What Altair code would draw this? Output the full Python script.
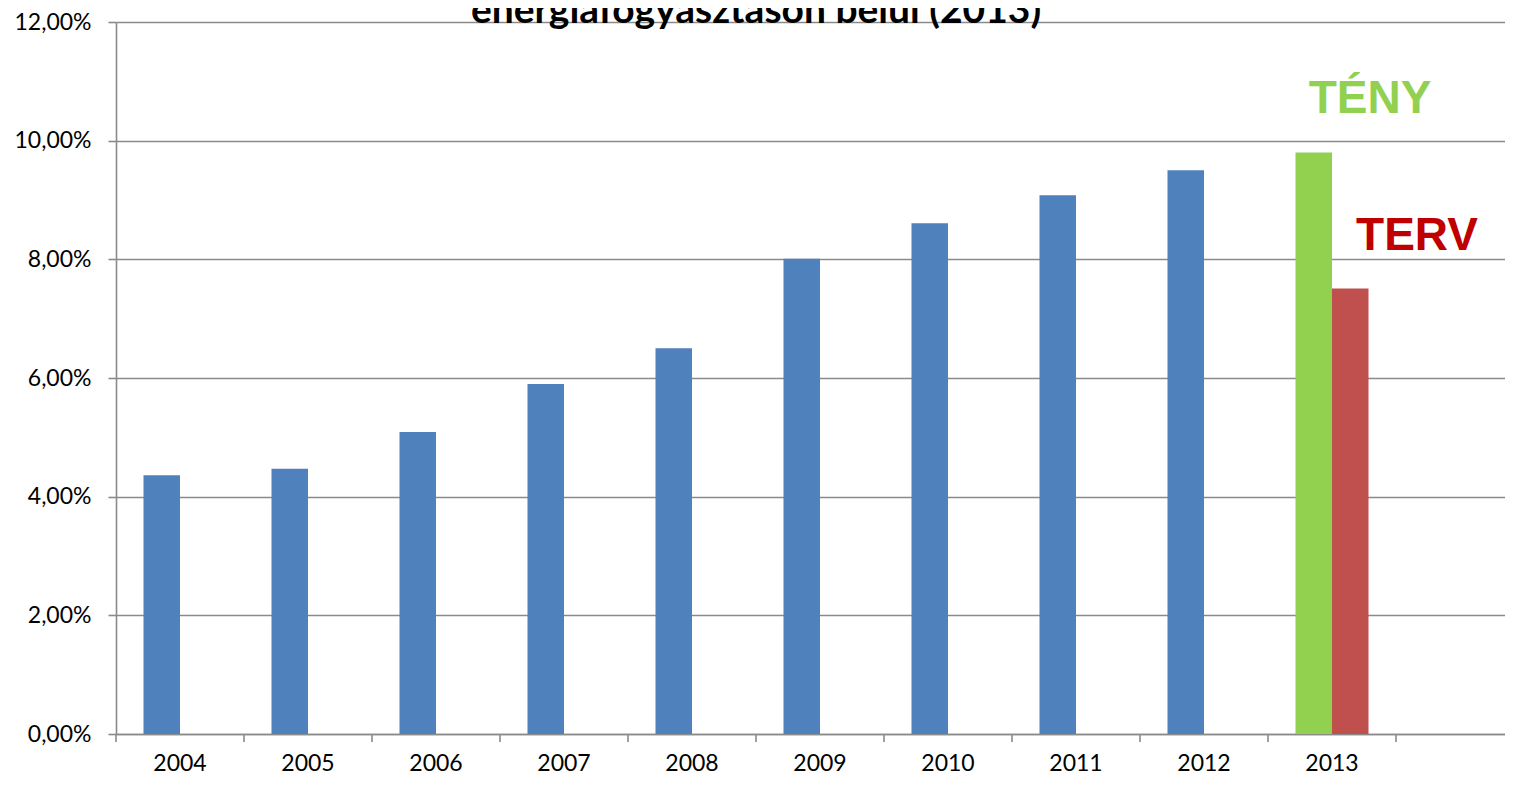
import altair as alt
import pandas as pd

# ---- data ----
years = ["2004", "2005", "2006", "2007", "2008", "2009", "2010", "2011", "2012", "2013"]
actual = [4.36, 4.47, 5.09, 5.90, 6.50, 8.01, 8.61, 9.08, 9.50, 9.80]
plan_year = "2013"
plan_value = 7.51
extra_slot = [""]  # empty category at the right end of the axis
title_text = ["energiafogyasztáson belül (2013)"]
ann_labels = ["TÉNY", "TERV"]
ann_values = [10.46, 8.16]
y_ticks = [0, 2, 4, 6, 8, 10, 12]

GRAY = "#8A8A8A"
W, H = 1389, 712
BAND = 128

rows = []
for y, v in zip(years, actual):
    rows.append({"year": y, "series": "Tény", "value": v,
                 "kind": "tény" if y == plan_year else "múlt"})
rows.append({"year": plan_year, "series": "Terv", "value": plan_value, "kind": "terv"})
df = pd.DataFrame(rows)

cats = years + extra_slot
xscale = alt.Scale(domain=cats, range=[0, BAND * len(cats)], paddingInner=0, paddingOuter=0)
yscale = alt.Scale(domain=[0, 12], nice=False, zero=True)

xaxis = alt.Axis(title=None, labelAngle=0, ticks=False, labelPadding=18,
                 domainColor=GRAY, domainWidth=1.6, grid=False)

bars = alt.Chart(df).mark_bar().encode(
    x=alt.X("year:N", scale=xscale, sort=cats, axis=xaxis),
    xOffset=alt.XOffset("series:N", scale=alt.Scale(domain=["Tény", "Terv"],
                                                     paddingInner=0, paddingOuter=0.753)),
    y=alt.Y("value:Q", scale=yscale,
            axis=alt.Axis(title=None, values=y_ticks, tickSize=8, tickColor=GRAY, tickWidth=1.6,
                          labelPadding=17, domainColor=GRAY, domainWidth=1.6,
                          gridColor=GRAY, gridWidth=1.6,
                          labelExpr="replace(format(datum.value, '.2f'), '.', ',') + '%'")),
    color=alt.Color("kind:N", legend=None,
                    scale=alt.Scale(domain=["múlt", "tény", "terv"],
                                    range=["#4F81BD", "#92D050", "#C0504D"])),
)

tick_df = pd.DataFrame({"year": cats})
ticks = alt.Chart(tick_df).mark_rule(color=GRAY, strokeWidth=1.6).encode(
    x=alt.X("year:N", bandPosition=0, scale=xscale, sort=cats, axis=xaxis),
    y=alt.value(H),
    y2=alt.value(H + 8),
)

ann_df = pd.DataFrame({"label": ann_labels, "value": ann_values, "year": [plan_year, plan_year]})
teny = alt.Chart(ann_df.iloc[[0]]).mark_text(
    font="Liberation Sans", fontWeight="bold", fontSize=46, color="#92D050",
    baseline="alphabetic", align="center", dx=38,
).encode(x=alt.X("year:N", scale=xscale, sort=cats, axis=xaxis),
         y=alt.Y("value:Q", scale=yscale), text="label:N")
terv = alt.Chart(ann_df.iloc[[1]]).mark_text(
    font="Liberation Sans", fontWeight="bold", fontSize=46, color="#C00000",
    baseline="alphabetic", align="center", dx=85,
).encode(x=alt.X("year:N", scale=xscale, sort=cats, axis=xaxis),
         y=alt.Y("value:Q", scale=yscale), text="label:N")

title = alt.Chart(pd.DataFrame({"t": title_text})).mark_text(
    font="Lato", fontWeight="bold", fontSize=39, color="black",
    baseline="alphabetic", align="center",
).encode(x=alt.value(640), y=alt.value(1), text="t:N")

chart = alt.layer(bars, ticks, teny, terv, title).properties(
    width=W, height=H,
    autosize=alt.AutoSizeParams(type="none"),
    padding={"left": 108, "top": 14, "right": 0, "bottom": 40},
).configure_view(stroke=None).configure_axis(
    labelFont="Lato", labelFontSize=23, labelColor="black",
)

chart.save("out.html", embed_options={"renderer": "svg", "actions": False})
